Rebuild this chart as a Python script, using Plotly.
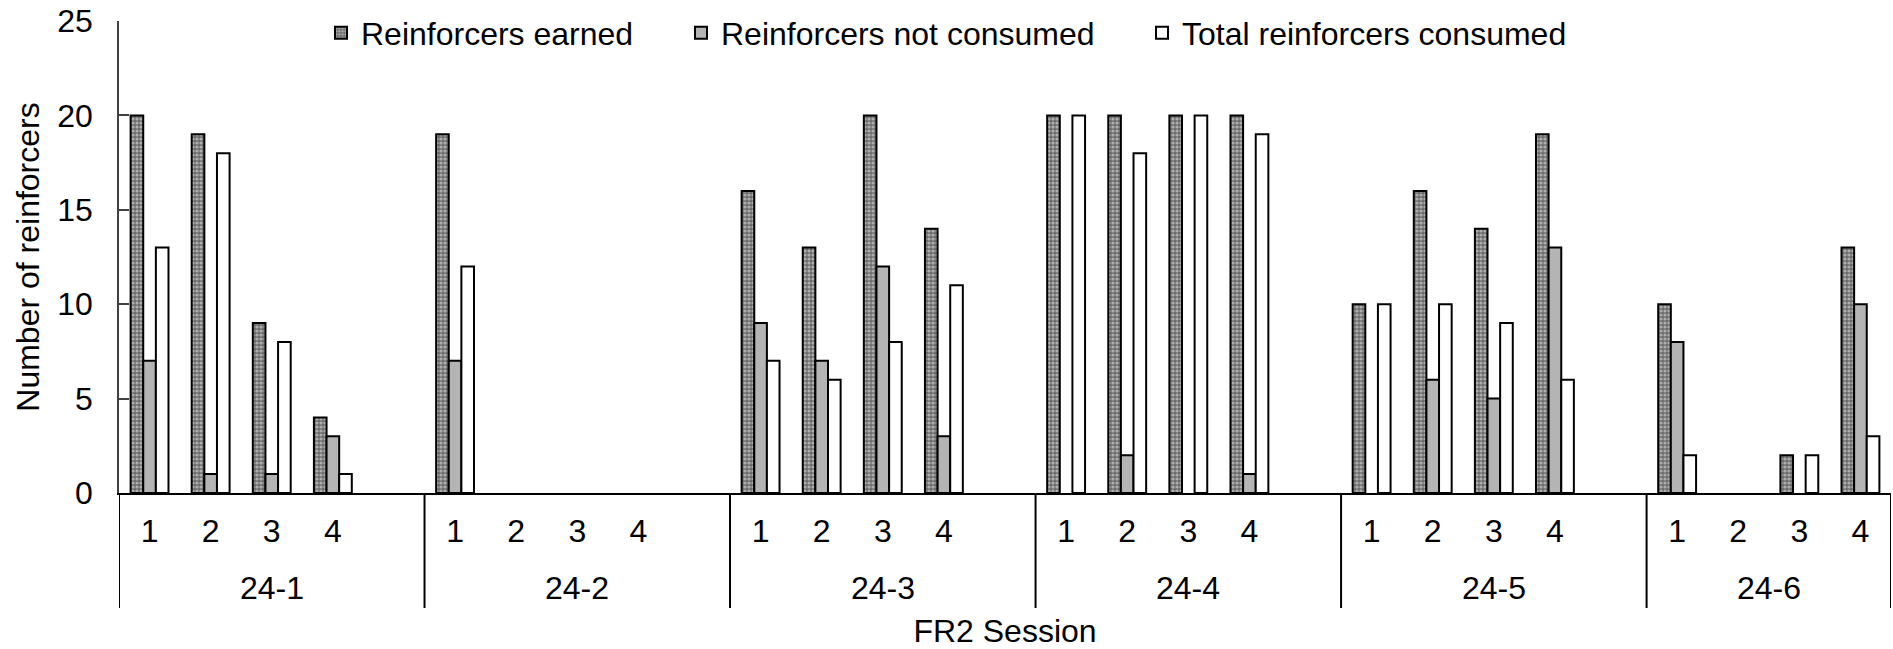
import plotly.graph_objects as go

# FR2 sessions per subject
subjects = ["24-1", "24-2", "24-3", "24-4", "24-5", "24-6"]
sessions = ["1", "2", "3", "4"]

# Per-subject values, one entry per session
reinforcers_earned = [
    [20, 19, 9, 4],
    [19, 0, 0, 0],
    [16, 13, 20, 14],
    [20, 20, 20, 20],
    [10, 16, 14, 19],
    [10, 0, 2, 13],
]
reinforcers_not_consumed = [
    [7, 1, 1, 3],
    [7, 0, 0, 0],
    [9, 7, 12, 3],
    [0, 2, 0, 1],
    [0, 6, 5, 13],
    [8, 0, 0, 10],
]
total_consumed = [
    [13, 18, 8, 1],
    [12, 0, 0, 0],
    [7, 6, 8, 11],
    [20, 18, 20, 19],
    [10, 10, 9, 6],
    [2, 0, 2, 3],
]

FONT = "Liberation Sans, Arial, sans-serif"
FS = 32

# Category keys along the x axis: each subject's sessions, then a blank
# spacer slot between subjects.
cat_keys, cat_text, group_spans = [], [], []
for i, subj in enumerate(subjects):
    start = len(cat_keys)
    for s in sessions:
        cat_keys.append(f"{subj}|{s}")
        cat_text.append(s)
    if i < len(subjects) - 1:
        cat_keys.append(f"{subj}|gap")
        cat_text.append("")
    group_spans.append((start, len(cat_keys)))


def series_y(values):
    ys = []
    for i in range(len(subjects)):
        ys.extend(values[i])
        if i < len(subjects) - 1:
            ys.append(None)
    return ys


def outline_widths(ys):
    # empty bars get no outline so nothing is drawn on the baseline
    return [2 if v else 0 for v in ys]


fig = go.Figure()

series = [
    ("Reinforcers earned", reinforcers_earned,
     dict(color="#8a8a8a",
          pattern=dict(shape=".", fgcolor="#f2f2f2", bgcolor="#6a6a6a",
                       size=4, solidity=0.5)),
     "legend"),
    ("Reinforcers not consumed", reinforcers_not_consumed,
     dict(color="#b4b4b4"),
     "legend2"),
    ("Total reinforcers consumed", total_consumed,
     dict(color="white"),
     "legend3"),
]

for name, vals, marker, leg in series:
    ys = series_y(vals)
    marker = dict(marker, line=dict(color="black", width=outline_widths(ys)))
    fig.add_trace(go.Bar(x=cat_keys, y=ys, name=name,
                         marker=marker, legend=leg, showlegend=True))

# plot area in pixels
W, H = 1893, 649
L, R, T, B = 119, 2, 21, 156
pw = W - L - R
ph = H - T - B


def px_x(px):
    return (px - L) / pw


def px_y(py):
    return (H - B - py) / ph


# subject dividers below the axis and subject labels
for k, (start, end) in enumerate(group_spans):
    fig.add_shape(type="line", xref="x", yref="paper",
                  x0=start - 0.5, x1=start - 0.5, y0=0, y1=px_y(608),
                  line=dict(color="black", width=2))
    fig.add_annotation(xref="x", yref="paper", x=(start + end - 1) / 2, y=px_y(588),
                       text=subjects[k], showarrow=False, yanchor="middle",
                       font=dict(family=FONT, size=FS, color="black"))
fig.add_shape(type="line", xref="x", yref="paper",
              x0=group_spans[-1][1] - 0.5, x1=group_spans[-1][1] - 0.5,
              y0=0, y1=px_y(608), line=dict(color="black", width=2))

leg_common = dict(
    orientation="h", yanchor="middle", xanchor="left",
    font=dict(family=FONT, size=FS, color="black"),
    bgcolor="rgba(0,0,0,0)", borderwidth=0,
)

fig.update_layout(
    width=W, height=H,
    margin=dict(l=L, r=R, t=T, b=B, autoexpand=False),
    paper_bgcolor="white", plot_bgcolor="white",
    font=dict(family=FONT, size=FS, color="black"),
    barmode="group", bargap=0.38, bargroupgap=0,
    showlegend=True,
    legend=dict(x=px_x(321), y=px_y(33), **leg_common),
    legend2=dict(x=px_x(681), y=px_y(33), **leg_common),
    legend3=dict(x=px_x(1142), y=px_y(33), **leg_common),
    xaxis=dict(
        type="category", categoryorder="array", categoryarray=cat_keys,
        tickmode="array", tickvals=cat_keys, ticktext=cat_text,
        range=[-0.5, len(cat_keys) - 0.5],
        showline=True, linecolor="black", linewidth=2, layer="above traces",
        ticks="", showgrid=False, zeroline=False,
        ticklabelstandoff=9,
        tickfont=dict(family=FONT, size=FS, color="black"),
        title=dict(text="FR2 Session", font=dict(family=FONT, size=FS), standoff=84),
    ),
    yaxis=dict(
        range=[0, 25], dtick=5, tick0=0,
        showline=True, linecolor="#404040", linewidth=1.5,
        ticks="inside", ticklen=10, tickwidth=1.5, tickcolor="#404040",
        showgrid=False, zeroline=False,
        ticklabelstandoff=18,
        tickfont=dict(family=FONT, size=FS, color="black"),
        title=dict(text="Number of reinforcers", font=dict(family=FONT, size=FS), standoff=8),
    ),
)

fig.write_html("out.html")
